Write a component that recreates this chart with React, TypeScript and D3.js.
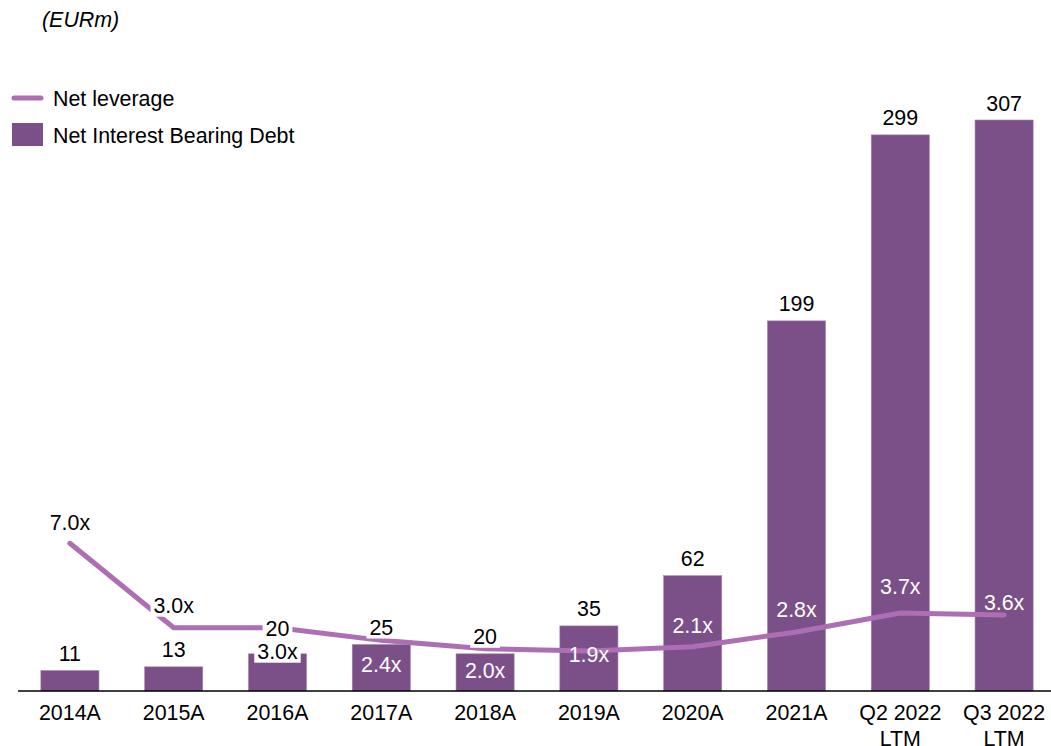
import React from "react";
import * as d3 from "d3";

const categories: string[][] = [
  ["2014A"], ["2015A"], ["2016A"], ["2017A"], ["2018A"], ["2019A"], ["2020A"], ["2021A"],
  ["Q2 2022", "LTM"], ["Q3 2022", "LTM"],
];
const debtValues: number[] = [11, 13, 20, 25, 20, 35, 62, 199, 299, 307];
const leverageValues: number[] = [7.0, 3.0, 3.0, 2.4, 2.0, 1.9, 2.1, 2.8, 3.7, 3.6];
const unitLabel = "(EURm)";
const seriesNames = { line: "Net leverage", bars: "Net Interest Bearing Debt" };

// layout constants (label placements as in the original)
const leverageLabelDy: number[] = [-21, -22, 24, 24, 22, 4, -21, -22, -26, -13];
const leverageLabelDark: boolean[] = [true, true, true, false, false, false, false, false, false, false];
const barLabelDy: number[] = [-17, -17, -25, -17, -17, -17, -17, -17, -17, -17];

const W = 1051;
const H = 746;
const BAR_COLOR = "#7B4F87";
const LINE_COLOR = "#AE6EB4";
const FONT = "'Liberation Sans', Arial, sans-serif";
const FS = 21.4;

export default function App() {
  const baseline = 691;
  const x = d3
    .scaleBand<number>()
    .domain(d3.range(categories.length))
    .range([18, 1056])
    .paddingInner(0.44)
    .paddingOuter(0.22);
  const yBar = d3.scaleLinear().domain([0, 307]).range([baseline, 120]);
  const yLine = d3.scaleLinear().domain([0, 7]).range([baseline, baseline - 7 * 21.1]);

  const cx = (i: number) => (x(i) as number) + x.bandwidth() / 2;
  const line = d3
    .line<number>()
    .x((_, i) => cx(i))
    .y((d) => yLine(d))
    .curve(d3.curveLinear);

  const textW = (s: string) => {
    let w = 0;
    for (const c of s) w += c === "." ? 0.278 : c === "x" ? 0.5 : 0.556;
    return w * FS;
  };

  return (
    <svg
      width={W}
      height={H}
      style={{ position: "absolute", left: 0, top: 0, background: "#fff" }}
      fontFamily={FONT}
      fontSize={FS}
    >
      <text x={42} y={27} fontStyle="italic" fill="#000">
        {unitLabel}
      </text>

      {/* legend */}
      <line x1={14} x2={41} y1={98} y2={98} stroke={LINE_COLOR} strokeWidth={5} strokeLinecap="round" />
      <text x={53} y={106} fill="#000">
        {seriesNames.line}
      </text>
      <rect x={12} y={123} width={31} height={23} fill={BAR_COLOR} />
      <text x={53} y={143} fill="#000">
        {seriesNames.bars}
      </text>

      {/* bars */}
      {debtValues.map((v, i) => (
        <rect
          key={"b" + i}
          x={x(i)}
          y={yBar(v)}
          width={x.bandwidth()}
          height={baseline - yBar(v)}
          fill={BAR_COLOR}
          stroke="#A987B0"
          strokeWidth={0.6}
        />
      ))}

      {/* axis */}
      <line x1={18} x2={W} y1={baseline} y2={baseline} stroke="#000" strokeWidth={1.6} />
      {categories.map((lines, i) => (
        <text key={"c" + i} x={cx(i)} textAnchor="middle" fill="#000">
          {lines.map((l, j) => (
            <tspan key={j} x={cx(i)} y={719.5 + j * 26}>
              {l}
            </tspan>
          ))}
        </text>
      ))}

      {/* leverage line */}
      <path
        d={line(leverageValues) || ""}
        fill="none"
        stroke={LINE_COLOR}
        strokeWidth={5}
        strokeLinecap="round"
        strokeLinejoin="round"
      />

      {/* bar value labels */}
      {debtValues.map((v, i) => {
        const s = String(v);
        const w = textW(s) + 6;
        const cy = yBar(v) + barLabelDy[i];
        return (
          <g key={"bl" + i}>
            <rect x={cx(i) - w / 2} y={cy - 11} width={w} height={22} fill="#fff" />
            <text x={cx(i)} y={cy + 7.5} textAnchor="middle" fill="#000">
              {s}
            </text>
          </g>
        );
      })}

      {/* leverage labels */}
      {leverageValues.map((v, i) => {
        const s = v.toFixed(1) + "x";
        const cy = yLine(v) + leverageLabelDy[i];
        const dark = leverageLabelDark[i];
        const w = textW(s) + 6;
        return (
          <g key={"ll" + i}>
            {dark && <rect x={cx(i) - w / 2} y={cy - 11} width={w} height={22} fill="#fff" />}
            <text x={cx(i)} y={cy + 7.5} textAnchor="middle" fill={dark ? "#000" : "#fff"}>
              {s}
            </text>
          </g>
        );
      })}
    </svg>
  );
}
